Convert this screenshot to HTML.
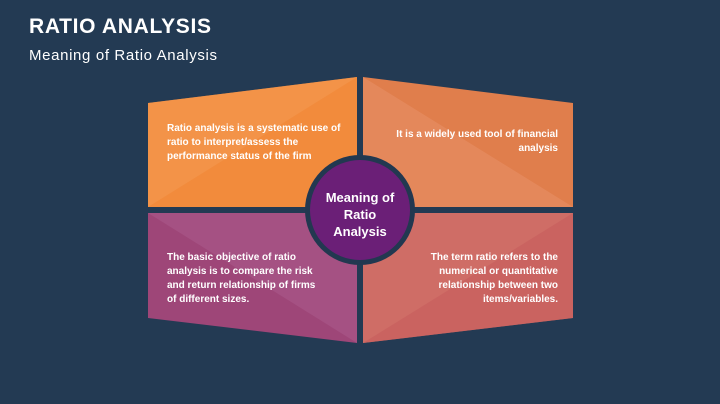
<!DOCTYPE html>
<html><head><style>
body{margin:0;width:720px;height:404px;background:#233a53;overflow:hidden;font-family:"Liberation Sans",sans-serif}
svg{position:absolute;left:0;top:0}
</style></head><body>
<svg width="720" height="404" viewBox="0 0 720 404">
<rect width="720" height="404" fill="#233a53"/>
<text x="29" y="33" fill="#fff" font-size="21" font-weight="bold" textLength="182">RATIO ANALYSIS</text>
<text x="29" y="60" fill="#fff" font-size="15" textLength="188">Meaning of Ratio Analysis</text>
<polygon points="148,103 357,77 357,207 148,207" fill="#f28b3c"/>
<polygon points="148,103 357,77 148,207" fill="#f39a50" opacity="0.6"/>
<polygon points="363,77 573,103 573,207 363,207" fill="#e07e4c"/>
<polygon points="363,77 573,207 363,207" fill="#e58d63" opacity="0.7"/>
<polygon points="148,213 357,213 357,343 148,318" fill="#9e4678"/>
<polygon points="148,213 357,213 357,343" fill="#a85588" opacity="0.7"/>
<polygon points="363,213 573,213 573,318 363,343" fill="#cf6d66"/>
<polygon points="573,213 573,318 363,343" fill="#c8605e" opacity="0.7"/>
<circle cx="360" cy="210" r="55" fill="#223850"/>
<circle cx="360" cy="210" r="50" fill="#6b1f77"/>
<g fill="#fff" font-size="10" font-weight="bold">
<text x="167" y="131">Ratio analysis is a systematic use of</text>
<text x="167" y="145">ratio to interpret/assess the</text>
<text x="167" y="159">performance status of the firm</text>
<text x="558" y="137" text-anchor="end">It is a widely used tool of financial</text>
<text x="558" y="151" text-anchor="end">analysis</text>
<text x="167" y="260">The basic objective of ratio</text>
<text x="167" y="274">analysis is to compare the risk</text>
<text x="167" y="288">and return relationship of firms</text>
<text x="167" y="302">of different sizes.</text>
<text x="558" y="260" text-anchor="end">The term ratio refers to the</text>
<text x="558" y="274" text-anchor="end">numerical or quantitative</text>
<text x="558" y="288" text-anchor="end">relationship between two</text>
<text x="558" y="302" text-anchor="end">items/variables.</text>
</g>
<g fill="#fff" font-size="13" font-weight="bold" text-anchor="middle">
<text x="360" y="202">Meaning of</text>
<text x="360" y="219">Ratio</text>
<text x="360" y="236">Analysis</text>
</g>
</svg>
</body></html>
